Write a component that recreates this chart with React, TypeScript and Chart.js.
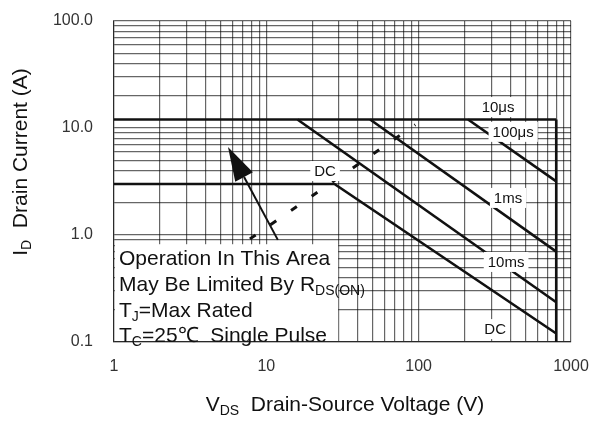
import { useEffect, useRef } from "react";
import { Chart, registerables } from "chart.js";

Chart.register(...registerables);

// ---- axis ticks ----
const xTickValues = [1, 10, 100, 1000];
const yTickValues = [0.1, 1, 10, 100];

// ---- SOA limit curves (V_DS in volts, I_D in amps) ----
const limit10us_V = [1, 800];
const limit10us_I = [12, 12];
const boundary_V = [800, 800];
const boundary_I = [12, 0.1];
const limit100us_V = [211, 800];
const limit100us_I = [12, 3.17];
const limit1ms_V = [48, 800];
const limit1ms_I = [12, 0.7];
const limit10ms_V = [16, 800];
const limit10ms_I = [12, 0.235];
const dc_V = [1, 28, 800];
const dc_I = [3, 3, 0.12];
const rdsOn_V = [7.8, 95];
const rdsOn_I = [0.92, 10.7];

// ---- curve labels ----
const labelTexts = ["10μs", "100μs", "1ms", "10ms", "DC", "DC"];
const labelV = [332, 417, 386, 375, 318, 24.3];
const labelI = [15.7, 9.2, 2.22, 0.56, 0.132, 3.96];

// ---- arrow (tail, tip) ----
const arrowV = [11.9, 5.6];
const arrowI = [0.9, 6.64];

// ---- note box (corners) ----
const noteBoxV = [1, 29.6];
const noteBoxI = [0.82, 0.1];

type Seg = [string, boolean];
const noteLines: Seg[][] = [
  [["Operation In This Area", false]],
  [["May Be Limited By R", false], ["DS(ON)", true]],
  [["T", false], ["J", true], ["=Max Rated", false]],
  [["T", false], ["C", true], ["=25℃  Single Pulse", false]],
];
const xTitle: Seg[] = [["V", false], ["DS", true], ["  Drain-Source Voltage (V)", false]];
const yTitle: Seg[] = [["I", false], ["D", true], ["  Drain Current (A)", false]];

const FONT = '"Liberation Sans", Arial, sans-serif';
const font = (s: number) => `${s}px ${FONT}`;

function drawRich(
  ctx: CanvasRenderingContext2D,
  segs: Seg[],
  x: number,
  y: number,
  size: number,
  subSize: number,
  drop: number,
  align: "left" | "center"
) {
  let total = 0;
  for (const [t, sub] of segs) {
    ctx.font = font(sub ? subSize : size);
    total += ctx.measureText(t).width;
  }
  let cx = align === "center" ? x - total / 2 : x;
  ctx.textAlign = "left";
  ctx.textBaseline = "alphabetic";
  for (const [t, sub] of segs) {
    ctx.font = font(sub ? subSize : size);
    ctx.fillText(t, cx, sub ? y + drop : y);
    cx += ctx.measureText(t).width;
  }
}

function logTicks(min: number, max: number) {
  const out: { value: number }[] = [];
  const e0 = Math.round(Math.log10(min));
  const e1 = Math.round(Math.log10(max));
  for (let e = e0; e < e1; e++) {
    for (let m = 1; m < 10; m++) out.push({ value: m * Math.pow(10, e) });
  }
  out.push({ value: max });
  return out;
}

const isIn = (arr: number[], v: number) => arr.some((a) => Math.abs(a - v) / a < 1e-6);
const pts = (vs: number[], is: number[]) => vs.map((v, i) => ({ x: v, y: is[i] }));

const overlay = {
  id: "overlay",
  beforeDatasetsDraw(chart: any) {
    const { ctx } = chart;
    const x = chart.scales.x;
    const y = chart.scales.y;
    const x1 = x.getPixelForValue(noteBoxV[0]);
    const x2 = x.getPixelForValue(noteBoxV[1]);
    const y1 = y.getPixelForValue(noteBoxI[0]);
    const y2 = y.getPixelForValue(noteBoxI[1]);
    ctx.save();
    ctx.fillStyle = "#ffffff";
    ctx.fillRect(x1 + 1, y1, x2 - x1 - 1, y2 - y1 - 1);
    ctx.restore();
  },
  afterDatasetsDraw(chart: any) {
    const { ctx } = chart;
    const x = chart.scales.x;
    const y = chart.scales.y;
    ctx.save();
    // arrow
    const tx = x.getPixelForValue(arrowV[0]);
    const ty = y.getPixelForValue(arrowI[0]);
    const px = x.getPixelForValue(arrowV[1]);
    const py = y.getPixelForValue(arrowI[1]);
    const len = Math.hypot(px - tx, py - ty);
    const dx = (px - tx) / len;
    const dy = (py - ty) / len;
    const headL = 34;
    const headW = 10;
    const bx = px - dx * headL;
    const by = py - dy * headL;
    ctx.strokeStyle = "#111";
    ctx.fillStyle = "#111";
    ctx.lineWidth = 2;
    ctx.beginPath();
    ctx.moveTo(tx, ty);
    ctx.lineTo(bx, by);
    ctx.stroke();
    ctx.beginPath();
    ctx.moveTo(px, py);
    ctx.lineTo(bx - dy * headW, by + dx * headW);
    ctx.lineTo(bx + dy * headW, by - dx * headW);
    ctx.closePath();
    ctx.fill();

    // curve labels
    ctx.font = font(15);
    ctx.textAlign = "center";
    ctx.textBaseline = "middle";
    labelTexts.forEach((t, i) => {
      const lx = x.getPixelForValue(labelV[i]);
      const ly = y.getPixelForValue(labelI[i]);
      const w = ctx.measureText(t).width;
      ctx.fillStyle = "#ffffff";
      ctx.fillRect(lx - w / 2 - 4, ly - 10, w + 8, 20);
      ctx.fillStyle = "#111";
      ctx.fillText(t, lx, ly + 1);
    });

    // note text
    const nx = x.getPixelForValue(noteBoxV[0]) + 5;
    const ny = y.getPixelForValue(noteBoxI[0]);
    ctx.fillStyle = "#111";
    noteLines.forEach((segs, i) => {
      drawRich(ctx, segs, nx, ny + 21 + i * 25.7, 21, 14, 4, "left");
    });
    ctx.restore();
  },
  afterDraw(chart: any) {
    const { ctx } = chart;
    ctx.save();
    ctx.fillStyle = "#111";
    drawRich(ctx, xTitle, 345, 411, 21, 14, 4, "center");
    ctx.translate(27, 162);
    ctx.rotate(-Math.PI / 2);
    drawRich(ctx, yTitle, 0, 0, 21, 14, 4, "center");
    ctx.restore();
  },
};

const lineStyle = {
  showLine: true,
  pointRadius: 0,
  borderColor: "#111",
  backgroundColor: "#111",
  borderWidth: 2.6,
  fill: false,
};

export default function App() {
  const ref = useRef<HTMLCanvasElement>(null);
  useEffect(() => {
    const chart = new Chart(ref.current!, {
      type: "scatter",
      data: {
        datasets: [
          { ...lineStyle, label: "10μs", data: pts(limit10us_V, limit10us_I) },
          { ...lineStyle, label: "boundary", data: pts(boundary_V, boundary_I) },
          { ...lineStyle, label: "100μs", data: pts(limit100us_V, limit100us_I) },
          { ...lineStyle, label: "1ms", data: pts(limit1ms_V, limit1ms_I) },
          { ...lineStyle, label: "10ms", data: pts(limit10ms_V, limit10ms_I) },
          { ...lineStyle, label: "DC", data: pts(dc_V, dc_I) },
          {
            ...lineStyle,
            label: "RDS(ON)",
            data: pts(rdsOn_V, rdsOn_I),
            borderWidth: 3,
            borderDash: [7, 18],
          },
        ] as any,
      },
      options: {
        animation: false,
        responsive: false,
        events: [],
        layout: { padding: { top: 21, right: 22, left: 0, bottom: 0 } },
        plugins: { legend: { display: false }, tooltip: { enabled: false } },
        scales: {
          x: {
            type: "logarithmic",
            min: 1,
            max: 1000,
            afterBuildTicks: (scale: any) => {
              scale.ticks = logTicks(1, 1000);
            },
            afterFit: (scale: any) => {
              scale.height = 79;
              scale.paddingLeft = 0;
              scale.paddingRight = 0;
            },
            grid: { color: "rgba(0,0,0,0.6)", lineWidth: 1.2, drawTicks: false },
            border: { color: "rgba(0,0,0,0.6)", width: 1.2 },
            ticks: {
              autoSkip: false,
              maxRotation: 0,
              padding: 15,
              color: "#333",
              font: { family: FONT, size: 16 },
              callback: (v: any) => (isIn(xTickValues, Number(v)) ? String(Number(v)) : ""),
            },
          },
          y: {
            type: "logarithmic",
            min: 0.1,
            max: 100,
            afterBuildTicks: (scale: any) => {
              scale.ticks = logTicks(0.1, 100);
            },
            afterFit: (scale: any) => {
              scale.width = 114;
              scale.paddingTop = 0;
              scale.paddingBottom = 0;
            },
            grid: { color: "rgba(0,0,0,0.6)", lineWidth: 1.2, drawTicks: false },
            border: { color: "rgba(0,0,0,0.6)", width: 1.2 },
            ticks: {
              autoSkip: false,
              padding: 21,
              color: "#333",
              font: { family: FONT, size: 16 },
              callback: (v: any) => (isIn(yTickValues, Number(v)) ? Number(v).toFixed(1) : ""),
            },
          },
        },
      } as any,
      plugins: [overlay],
    });
    return () => chart.destroy();
  }, []);
  return (
    <div style={{ position: "absolute", left: 0, top: 0, width: 593, height: 421, background: "#fff" }}>
      <canvas ref={ref} width={593} height={421} style={{ display: "block" }} />
    </div>
  );
}
